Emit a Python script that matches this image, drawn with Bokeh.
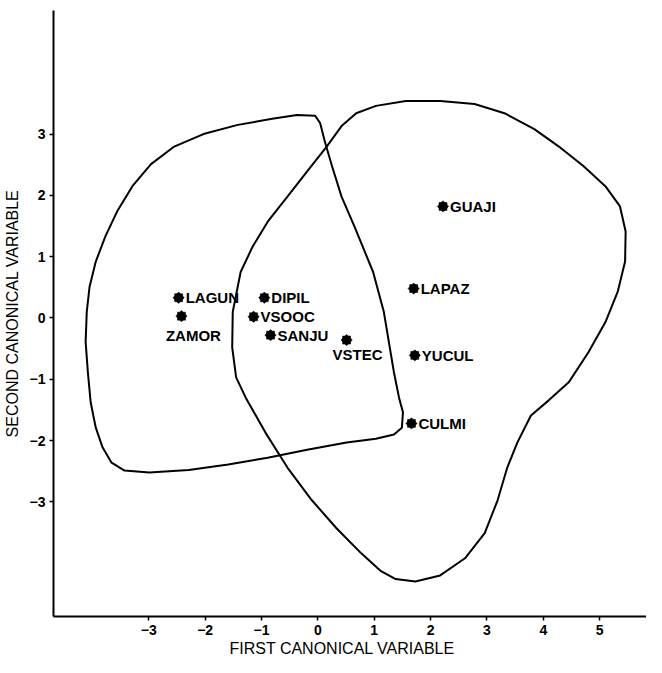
from bokeh.plotting import figure
from bokeh.models import Range1d, FixedTicker, ColumnDataSource, Title
from bokeh.core.properties import value
from bokeh.embed import file_html
from bokeh.resources import INLINE

# --- data ---
site_names = ["GUAJI", "LAPAZ", "YUCUL", "CULMI", "LAGUN", "DIPIL", "VSOOC", "SANJU"]
site_x = [2.22, 1.70, 1.72, 1.66, -2.47, -0.95, -1.14, -0.84]
site_y = [1.82, 0.48, -0.61, -1.72, 0.33, 0.33, 0.02, -0.28]

below_names = ["ZAMOR", "VSTEC"]
below_x = [-2.42, 0.51]
below_y = [0.03, -0.36]

left_contour_x = [-0.05, 0.04, 0.12, 0.25, 0.42, 0.65, 0.98, 1.17, 1.35, 1.44, 1.51, 1.49,
                  1.35, 1.03, 0.51, -0.19, -0.89, -1.59, -2.29, -2.99, -3.43, -3.66, -3.82,
                  -3.94, -4.03, -4.08, -4.12, -4.10, -4.05, -3.94, -3.77, -3.56, -3.29, -2.96,
                  -2.56, -2.03, -1.42, -0.81, -0.37]
left_contour_y = [3.30, 3.18, 2.89, 2.48, 1.98, 1.49, 0.75, 0.10, -0.89, -1.30, -1.54, -1.79,
                  -1.90, -1.97, -2.03, -2.15, -2.28, -2.39, -2.48, -2.52, -2.49, -2.36, -2.11,
                  -1.79, -1.38, -0.89, -0.39, 0.10, 0.51, 0.92, 1.33, 1.74, 2.15, 2.51,
                  2.79, 3.00, 3.15, 3.25, 3.31]

right_contour_x = [0.68, 1.03, 1.56, 2.17, 2.78, 3.31, 3.84, 4.27, 4.71, 5.10, 5.36, 5.46,
                   5.45, 5.32, 5.10, 4.80, 4.45, 4.10, 3.78, 3.54, 3.36, 3.19, 2.96, 2.61,
                   2.17, 1.73, 1.38, 1.12, 0.77, 0.33, -0.11, -0.54, -0.93, -1.28, -1.45,
                   -1.52, -1.51, -1.37, -1.16, -0.89, -0.54, -0.19, 0.16, 0.42]
right_contour_y = [3.34, 3.46, 3.54, 3.54, 3.49, 3.34, 3.08, 2.80, 2.48, 2.15, 1.82, 1.41,
                   0.92, 0.43, -0.07, -0.56, -1.05, -1.34, -1.59, -2.03, -2.44, -2.97, -3.51,
                   -3.92, -4.20, -4.30, -4.26, -4.13, -3.84, -3.43, -2.97, -2.44, -1.87, -1.30,
                   -0.97, -0.48, 0.10, 0.75, 1.16, 1.57, 1.98, 2.39, 2.80, 3.13]

x_ticks = [-3, -2, -1, 0, 1, 2, 3, 4, 5]
y_ticks = [-3, -2, -1, 0, 1, 2, 3]
x_title = "FIRST CANONICAL VARIABLE"
y_title = "SECOND CANONICAL VARIABLE"

FONT = "Liberation Sans"

p = figure(width=646, height=657, output_backend="svg", toolbar_location=None,
           x_range=Range1d(-4.69, 5.83), y_range=Range1d(-4.87, 5.016),
           min_border_left=45, min_border_right=0, min_border_top=10, min_border_bottom=41)
p.outline_line_color = None
p.grid.visible = False
p.background_fill_color = "white"

for ax in (p.xaxis[0], p.yaxis[0]):
    ax.axis_line_width = 2
    ax.axis_line_color = "black"
    ax.major_tick_line_width = 1.5
    ax.major_tick_out = 4
    ax.major_tick_in = 0
    ax.minor_tick_line_color = None
    ax.major_label_text_font = FONT
    ax.major_label_text_font_size = "14px"
    ax.major_label_text_font_style = "bold"
    ax.major_label_text_color = "black"
    ax.axis_label_text_font = FONT
    ax.axis_label_text_font_size = "16px"
    ax.axis_label_text_font_style = "normal"
    ax.axis_label_text_color = "black"

p.xaxis.ticker = FixedTicker(ticks=x_ticks)
p.yaxis.ticker = FixedTicker(ticks=y_ticks)
p.yaxis.axis_label = y_title
p.xaxis.major_label_standoff = 4
p.yaxis.major_label_standoff = 4
p.yaxis.axis_label_standoff = 6
p.yaxis.major_label_orientation = "horizontal"

# x-axis title as a title panel below the axis
p.add_layout(Title(text=x_title, align="left", offset=176, standoff=0,
                   text_font=FONT, text_font_size="16px", text_font_style="normal",
                   text_color="black"), "below")

# contours
p.patch(left_contour_x, left_contour_y, fill_color=None, line_color="black", line_width=2)
p.patch(right_contour_x, right_contour_y, fill_color=None, line_color="black", line_width=2)

# points (8-pointed stars from two squares)
all_x = site_x + below_x
all_y = site_y + below_y
for ang in (0, 0.785398):
    p.scatter(all_x, all_y, marker="square", size=8, angle=ang,
              fill_color="black", line_color="black", line_width=0.5)

src = ColumnDataSource(dict(x=site_x, y=site_y, t=site_names))
p.text("x", "y", text="t", source=src, x_offset=7, y_offset=0,
       text_font=value(FONT), text_font_size="15px", text_font_style="bold",
       text_baseline="middle", text_align="left", text_color="black")

src2 = ColumnDataSource(dict(x=below_x, y=below_y, t=below_names,
                             xo=[12, 11], yo=[19, 14]))
p.text("x", "y", text="t", source=src2, x_offset="xo", y_offset="yo",
       text_font=value(FONT), text_font_size="15px", text_font_style="bold",
       text_baseline="middle", text_align="center", text_color="black")

open("out.html", "w").write(file_html(p, INLINE))
